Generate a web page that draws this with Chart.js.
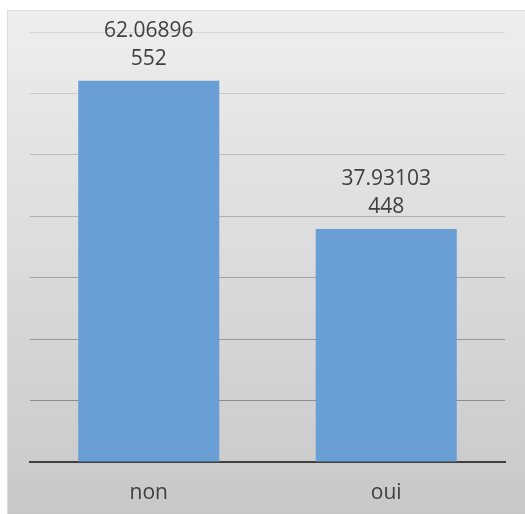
<html>
<head>
<style>
html, body {
  margin:0px;
  background:#ffffff;
}
</style>
<script src="https://cdn.jsdelivr.net/npm/chart.js@4.4.1/dist/chart.umd.min.js"></script>
</head>
<body>
<div style="position: relative; width:525px; height:514px;">
<canvas id="myChart" width="525" height="514"></canvas>
</div>
<script>
const categories = ["non", "oui"];
const percents = [62.06896552, 37.93103448];
const labelLines = [["62.06896", "552"], ["37.93103", "448"]]; // value labels as wrapped in the picture
const yMax = 70;
const yStep = 10;

// grey gradient panel behind the chart
const panelPlugin = {
  id: 'panel',
  beforeDraw(chart) {
    const c = chart.ctx;
    const g = c.createLinearGradient(0, 10, 0, 514);
    g.addColorStop(0, '#eeeeee');
    g.addColorStop(1, '#c8c8c8');
    c.save();
    c.fillStyle = '#ffffff';
    c.fillRect(0, 0, chart.width, chart.height);
    c.fillStyle = g;
    c.fillRect(7, 10, chart.width - 7, chart.height - 10);
    c.strokeStyle = '#dcdcdc';
    c.lineWidth = 1;
    c.beginPath();
    c.moveTo(7.5, chart.height);
    c.lineTo(7.5, 10.5);
    c.lineTo(chart.width, 10.5);
    c.stroke();
    c.restore();
  }
};

// two-line value labels above the bars
const valuePlugin = {
  id: 'values',
  afterDatasetsDraw(chart) {
    const c = chart.ctx;
    const meta = chart.getDatasetMeta(0);
    c.save();
    c.font = '21px "Open Sans"';
    c.fillStyle = '#404040';
    c.textAlign = 'center';
    c.textBaseline = 'middle';
    meta.data.forEach(function(bar, i) {
      c.fillText(labelLines[i][0], bar.x, bar.y - 50);
      c.fillText(labelLines[i][1], bar.x, bar.y - 22);
    });
    c.restore();
  }
};

const ctx = document.getElementById('myChart');
const myChart = new Chart(ctx, {
  type: 'bar',
  data: {
    labels: categories,
    datasets: [{
      data: percents,
      backgroundColor: '#6a9fd5',
      borderWidth: 0,
      categoryPercentage: 1.0,
      barPercentage: 0.594
    }]
  },
  options: {
    responsive: false,
    animation: false,
    layout: {
      padding: {left: 30, right: 20, top: 32, bottom: 12}
    },
    plugins: {
      legend: {display: false},
      tooltip: {enabled: false}
    },
    scales: {
      x: {
        afterFit(scale) { scale.height = 40; },
        grid: {display: false, drawTicks: false},
        border: {display: true, color: '#404040', width: 2},
        ticks: {
          color: '#404040',
          padding: 18,
          font: {family: 'Open Sans', size: 21}
        }
      },
      y: {
        min: 0,
        max: yMax,
        afterFit(scale) { scale.width = 0; },
        ticks: {display: false, stepSize: yStep},
        border: {display: false},
        grid: {
          drawTicks: false,
          lineWidth: 1,
          color: function(context) {
            // lines look darker lower down in the picture
            const v = context.tick ? context.tick.value : 0;
            const shades = ['#404040', '#8c8c8c', '#979797', '#a3a3a3', '#b0b0b0', '#bdbdbd', '#c9c9c9', '#d6d6d6'];
            return shades[Math.round(v / yStep)];
          }
        }
      }
    }
  },
  plugins: [panelPlugin, valuePlugin]
});
</script>
</body>
</html>
